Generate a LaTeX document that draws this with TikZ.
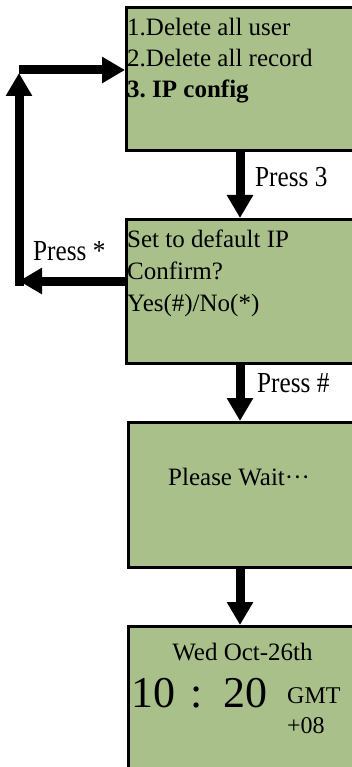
\documentclass[tikz,border=0pt]{standalone}
\usepackage{fontspec}
\setmainfont{Liberation Serif}
\newfontfamily\condfont[FakeStretch=0.87]{Liberation Serif}
\usetikzlibrary{arrows.meta}
\definecolor{lcdgreen}{RGB}{169,192,139}
\frenchspacing
\tikzset{
  screen/.style={draw=black, line width=2.6pt, fill=lcdgreen, rectangle, anchor=north west, inner sep=0pt},
  arr/.style={line width=9pt, -{Triangle[length=23pt, width=25pt]}},
  txt/.style={inner sep=0pt, anchor=base west, font=\fontsize{25}{30}\selectfont},
  lbl/.style={inner sep=0pt, anchor=base west, font=\condfont\fontsize{29}{34}\selectfont},
}
\begin{document}
\begin{tikzpicture}[x=1pt, y=-1pt]
\useasboundingbox (0,0) rectangle (352,767);
\clip (0,0) rectangle (352,767);
% screens
\node[screen, minimum width=300pt, minimum height=143pt] (b1) at (125,6) {};
\node[screen, minimum width=300pt, minimum height=144pt] (b2) at (125,218) {};
\node[screen, minimum width=300pt, minimum height=145pt] (b3) at (127,421) {};
\node[screen, minimum width=300pt, minimum height=200pt] (b4) at (127,625) {};
% screen 1 text
\node[txt] (t11) at (127,36) {1.Delete all user};
\node[txt] (t12) at (127,67) {2.Delete all record};
\node[txt, font=\bfseries\fontsize{25}{30}\selectfont] (t13) at (127,98) {3. IP config};
% screen 2 text
\node[txt] (t21) at (127,247) {Set to default IP};
\node[txt] (t22) at (127,279) {Confirm?};
\node[txt] (t23) at (127,311) {Yes(\#)/No(*)};
% screen 3 text
\node[txt] (t31) at (168,485) {Please Wait\textperiodcentered\textperiodcentered\textperiodcentered};
% screen 4 text
\node[txt, anchor=base] (t41) at (242.5,660) {Wed Oct-26th};
\node[txt, font=\fontsize{44}{50}\selectfont] (t42) at (131,707) {10};
\node[txt, anchor=base, font=\fontsize{44}{50}\selectfont] (t43) at (197,707) {:};
\node[txt, font=\fontsize{44}{50}\selectfont] (t44) at (223,707) {20};
\node[txt, font=\fontsize{24}{28}\selectfont] (t45) at (287,703) {GMT};
\node[txt, font=\fontsize{24}{28}\selectfont] (t46) at (287,733) {+08};
% connectors
\coordinate (d1) at (240,149);
\draw[arr] (d1) -- (b2.north -| d1);
\node[lbl] (p3) at (255,187) {Press 3};
\coordinate (d2) at (240,362);
\draw[arr] (d2) -- (b3.north -| d2);
\node[lbl] (ph) at (257,392) {Press \#};
\coordinate (d3) at (240,566);
\draw[arr] (d3) -- (b4.north -| d3);
% loop back
\coordinate (cl) at (19,281);
\coordinate (clb) at (19,286);
\coordinate (ctu) at (19,73);
\coordinate (ct) at (19,70);
\draw[arr] (b2.west |- cl) -- (cl);
\draw[arr] (clb) -- (ctu);
\draw[arr] (ct) -- (b1.west |- ct);
\node[lbl] (ps) at (33,260) {Press *};
\end{tikzpicture}
\end{document}
